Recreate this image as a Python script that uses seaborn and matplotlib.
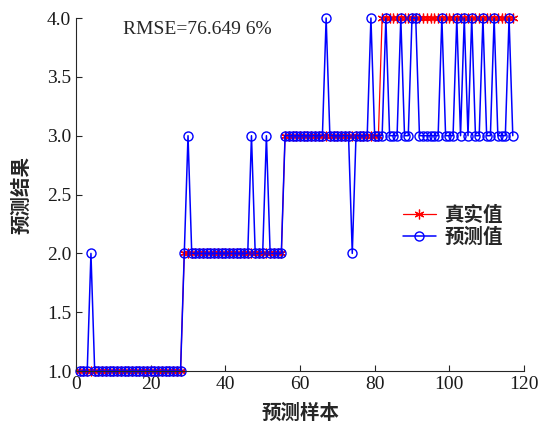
import matplotlib
matplotlib.use("Agg")
import matplotlib.pyplot as plt
import seaborn as sns

# values
true_vals = [
    1, 1, 1, 1, 1, 1, 1, 1, 1, 1,
    1, 1, 1, 1, 1, 1, 1, 1, 1, 1,
    1, 1, 1, 1, 1, 1, 1, 1, 2, 2,
    2, 2, 2, 2, 2, 2, 2, 2, 2, 2,
    2, 2, 2, 2, 2, 2, 2, 2, 2, 2,
    2, 2, 2, 2, 2, 3, 3, 3, 3, 3,
    3, 3, 3, 3, 3, 3, 3, 3, 3, 3,
    3, 3, 3, 3, 3, 3, 3, 3, 3, 3,
    3, 4, 4, 4, 4, 4, 4, 4, 4, 4,
    4, 4, 4, 4, 4, 4, 4, 4, 4, 4,
    4, 4, 4, 4, 4, 4, 4, 4, 4, 4,
    4, 4, 4, 4, 4, 4, 4,
]
pred_vals = [
    1, 1, 1, 2, 1, 1, 1, 1, 1, 1,
    1, 1, 1, 1, 1, 1, 1, 1, 1, 1,
    1, 1, 1, 1, 1, 1, 1, 1, 2, 3,
    2, 2, 2, 2, 2, 2, 2, 2, 2, 2,
    2, 2, 2, 2, 2, 2, 3, 2, 2, 2,
    3, 2, 2, 2, 2, 3, 3, 3, 3, 3,
    3, 3, 3, 3, 3, 3, 4, 3, 3, 3,
    3, 3, 3, 2, 3, 3, 3, 3, 4, 3,
    3, 3, 4, 3, 3, 3, 4, 3, 3, 4,
    4, 3, 3, 3, 3, 3, 3, 4, 3, 3,
    3, 4, 3, 4, 3, 4, 3, 3, 4, 3,
    3, 4, 3, 3, 3, 4, 3,
]
samples = list(range(1, len(true_vals) + 1))
x_ticks = [0, 20, 40, 60, 80, 100, 120]
y_ticks = [1.0, 1.5, 2.0, 2.5, 3.0, 3.5, 4.0]
rmse_text = "RMSE=76.649 6%"

sns.set_theme(style="ticks")
plt.rcParams["font.family"] = ["Liberation Serif", "Noto Sans CJK SC"]
plt.rcParams["xtick.direction"] = "in"
plt.rcParams["ytick.direction"] = "in"

fig = plt.figure(figsize=(5.43, 4.29), dpi=100)
ax = fig.add_axes([0.14, 0.135, 0.825, 0.823])

# MATLAB-like asterisk marker
star = (6, 2, 0)
sns.lineplot(x=samples, y=true_vals, ax=ax, color="red", linewidth=0.9,
             marker=star, markersize=7, markeredgewidth=0.9,
             markeredgecolor="red", label="真实值", clip_on=False)
sns.lineplot(x=samples, y=pred_vals, ax=ax, color="blue", linewidth=1.1,
             marker="o", markersize=6.5, markerfacecolor="none",
             markeredgewidth=1.0, markeredgecolor="blue", label="预测值",
             clip_on=False)

ax.set_xlim(0, 120)
ax.set_ylim(1, 4)
ax.set_xticks(x_ticks)
ax.set_yticks(y_ticks)
ax.set_yticklabels([f"{v:.1f}" for v in y_ticks])
ax.tick_params(labelsize=14, length=4, width=0.8, colors="#262626",
               labelcolor="#1a1a1a")
for s in ["left", "bottom"]:
    ax.spines[s].set_linewidth(0.8)
    ax.spines[s].set_color("#262626")
sns.despine(ax=ax)

cjk = {"family": "Noto Sans CJK SC", "weight": "bold", "size": 14}
ax.set_xlabel("预测样本", fontdict=cjk, labelpad=8)
ax.set_ylabel("预测结果", fontdict=cjk, labelpad=11)

ax.text(12.5, 3.9, rmse_text, fontsize=14, va="center",
        family="Liberation Serif")

leg = ax.legend(loc="center left", bbox_to_anchor=(0.69, 0.41), frameon=False,
                prop={"family": "Noto Sans CJK SC", "weight": "bold", "size": 14},
                handlelength=1.7, labelspacing=0.1, handletextpad=0.45)

fig.savefig("out.png", dpi=100)
